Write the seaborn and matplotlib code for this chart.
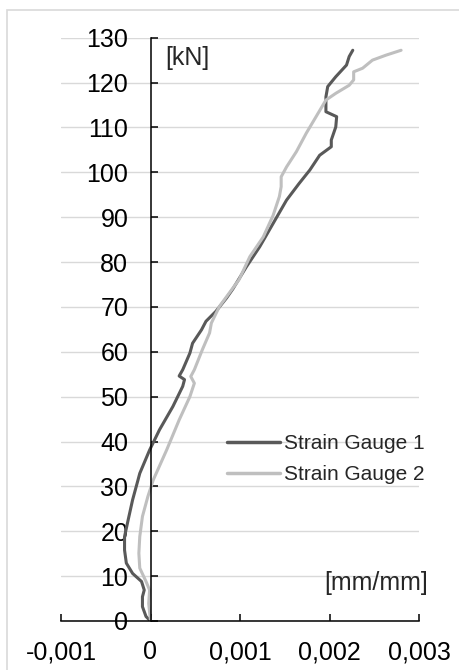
import numpy as np
import pandas as pd
import matplotlib
matplotlib.use("Agg")
import matplotlib.pyplot as plt
import seaborn as sns
from matplotlib.patches import Rectangle
from matplotlib.ticker import FuncFormatter

# ── Datos (deformación [mm/mm], carga [kN]) ─────────────────────────
sg1_strain = [0, -0.00005, -0.00009, -0.00009, -0.00007, -0.00010, -0.00020,
              -0.00027, -0.00029, -0.00029, -0.00025, -0.00020, -0.00014,
              -0.00012, -0.00001, 0.00010, 0.00025, 0.00036, 0.00038, 0.00032,
              0.00036, 0.00044, 0.00047, 0.00057, 0.00062, 0.00073, 0.00085,
              0.00092, 0.00107, 0.00122, 0.00137, 0.00152, 0.00166, 0.00178,
              0.00189, 0.00202, 0.00202, 0.00207, 0.00208, 0.00196, 0.00196,
              0.00198, 0.00207, 0.00219, 0.00222, 0.00226]
sg1_load = [0, 1.0, 3.2, 5.4, 6.9, 8.8, 10.6, 12.9, 15.8, 18.8, 22.5, 27.0,
            31.4, 32.9, 38.1, 42.6, 47.8, 52.3, 53.8, 54.6, 56.0, 59.7, 61.9,
            64.9, 66.8, 69.0, 72.0, 74.0, 78.9, 83.4, 88.6, 93.8, 97.5, 100.5,
            103.8, 105.7, 107.2, 110.1, 112.4, 113.5, 116.8, 119.1, 121.3,
            123.9, 125.8, 127.2]

sg2_strain = [0, -0.00002, -0.00001, -0.00005, -0.00012, -0.00013, -0.00012,
              -0.00009, -0.00003, 0.00003, 0.00018, 0.00032, 0.00044, 0.00049,
              0.00045, 0.00049, 0.00058, 0.00066, 0.00068, 0.00077, 0.00088,
              0.00099, 0.00111, 0.00126, 0.00137, 0.00144, 0.00146, 0.00146,
              0.00152, 0.00163, 0.00174, 0.00185, 0.00196, 0.00207, 0.00222,
              0.00227, 0.00227, 0.00237, 0.00248, 0.00263, 0.00280]
sg2_load = [0, 3.9, 6.9, 8.8, 11.8, 15.1, 18.8, 23.3, 27.7, 31.4, 38.1, 44.8,
            50.0, 53.0, 54.5, 56.0, 60.5, 64.2, 66.4, 70.1, 73.1, 76.1, 81.2,
            85.6, 90.4, 94.6, 96.8, 99.0, 101.2, 104.6, 108.7, 112.4, 116.1,
            117.6, 119.4, 120.6, 122.4, 123.2, 125.0, 126.1, 127.2]

series_names = ["Strain Gauge 1", "Strain Gauge 2"]
y_ticks = list(range(0, 131, 10))
x_ticks = [-0.001, 0, 0.001, 0.002, 0.003]

df = pd.concat([
    pd.DataFrame({"strain": sg1_strain, "load": sg1_load, "serie": series_names[0]}),
    pd.DataFrame({"strain": sg2_strain, "load": sg2_load, "serie": series_names[1]}),
], ignore_index=True)

# ── Estilo ──────────────────────────────────────────────────────────
sns.set_style("white")
plt.rcParams["font.family"] = ["Liberation Sans", "DejaVu Sans"]

fig = plt.figure(figsize=(4.6, 6.7), dpi=100)
ax = fig.add_axes([61 / 460, 1 - 621 / 670, 358 / 460, 583.3 / 670])

sns.lineplot(
    data=df, x="strain", y="load", hue="serie", units="serie",
    estimator=None, sort=False, ax=ax, linewidth=2.2,
    palette={series_names[0]: "#595959", series_names[1]: "#BFBFBF"},
    solid_joinstyle="round", solid_capstyle="round",
)

ax.set_xlim(-0.001, 0.003)
ax.set_ylim(0, 130)
ax.set_xticks(x_ticks)
ax.set_yticks(y_ticks)
ax.xaxis.set_major_formatter(
    FuncFormatter(lambda v, p: "0" if abs(v) < 1e-12 else f"{v:.3f}".replace(".", ",")))
ax.set_xlabel("")
ax.set_ylabel("")

# Ejes cruzando en el origen
ax.spines["left"].set_position(("data", 0))
ax.spines["bottom"].set_position(("data", 0))
ax.spines["top"].set_visible(False)
ax.spines["right"].set_visible(False)
for s in ("left", "bottom"):
    ax.spines[s].set_color("black")
    ax.spines[s].set_linewidth(1.1)

ax.yaxis.grid(True, color="#D9D9D9", linewidth=1.0)
ax.xaxis.grid(False)
ax.set_axisbelow(True)

ax.tick_params(axis="both", direction="in", length=5, width=1.1, color="black",
               labelsize=18, labelcolor="black")
ax.tick_params(axis="y", pad=16, left=True)
ax.tick_params(axis="x", pad=14, bottom=True)

ax.text(0.000168, 124.0, "[kN]", fontsize=18, va="baseline", ha="left")
ax.text(0.00194, 7.0, "[mm/mm]", fontsize=18, va="baseline", ha="left")

leg = ax.legend(
    loc="upper left", bbox_to_anchor=(0.4637, 0.3206), frameon=False,
    fontsize=15, handlelength=2.55, handletextpad=0.2, labelspacing=0.6,
    borderpad=0, borderaxespad=0,
)
for line in leg.get_lines():
    line.set_linewidth(2.5)

# Marco gris claro del gráfico
fig.add_artist(Rectangle((7 / 460, -0.1), 2.0, 1.1 - 10 / 670,
                         transform=fig.transFigure, fill=False,
                         edgecolor="#D9D9D9", linewidth=1.2))

fig.savefig("out.png", dpi=100, facecolor="white")
